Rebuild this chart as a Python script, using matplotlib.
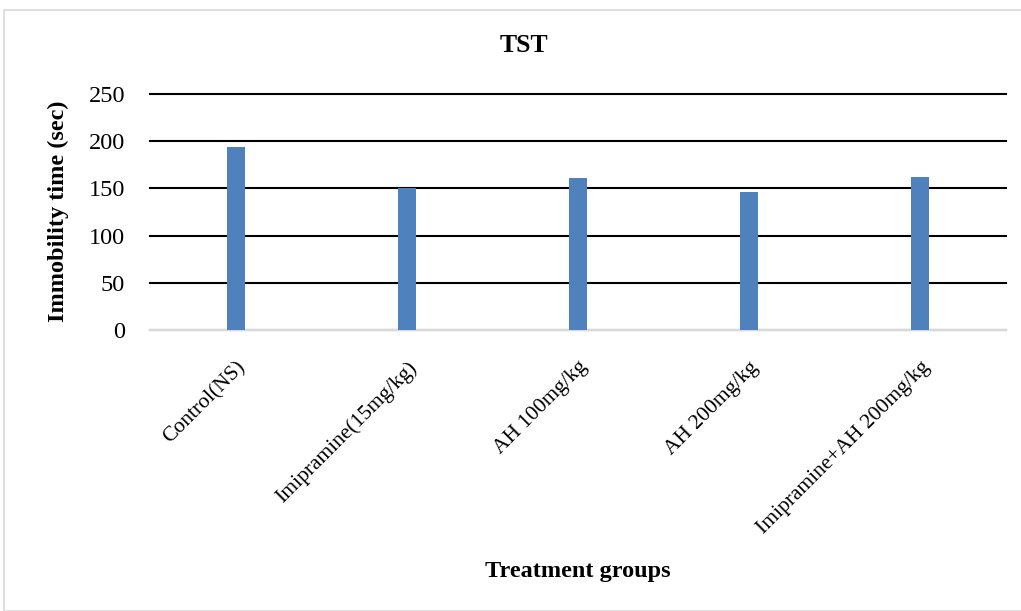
import matplotlib
matplotlib.use("Agg")
import matplotlib.pyplot as plt
import numpy as np
from matplotlib.patches import Rectangle

groups = ["Control(NS)", "Imipramine(15mg/kg)", "AH 100mg/kg",
          "AH 200mg/kg", "Imipramine+AH 200mg/kg"]
immobility = [193.5, 150, 161, 146.5, 162.5]
yticks = [0, 50, 100, 150, 200, 250]

plt.rcParams['font.family'] = ['Liberation Serif', 'DejaVu Serif']

fig = plt.figure(figsize=(10.21, 6.11), dpi=100)
ax = fig.add_axes([150/1021, 1 - 330/611, (1006-150)/1021, (330-94)/611])

# chart border
fig.patches.append(Rectangle((4/1021, 0), 1, 1 - 10/611, transform=fig.transFigure,
                             fill=False, edgecolor='#d9d9d9', linewidth=1.2))

x = np.arange(len(groups))
ax.bar(x, immobility, width=0.105, color='#4f81bd', zorder=3)

ax.set_xlim(-0.5, len(groups) - 0.5)
ax.set_ylim(0, 250)
ax.set_yticks(yticks)
ax.set_yticklabels([str(v) for v in yticks], fontsize=17.5)
ax.set_xticks(x)
ax.set_xticklabels(groups, rotation=45, ha='right', va='top',
                   rotation_mode='anchor', fontsize=15.5)
ax.tick_params(axis='both', length=0)
ax.tick_params(axis='y', pad=18)
ax.tick_params(axis='x', pad=20)

ax.grid(axis='y', color='black', linewidth=1.5, zorder=1)
for gl in ax.get_ygridlines():
    gl.set_clip_on(False)
for s in ['top', 'right', 'left']:
    ax.spines[s].set_visible(False)
ax.spines['bottom'].set_color('#d9d9d9')
ax.spines['bottom'].set_linewidth(1.5)
ax.spines['bottom'].set_zorder(2)

fig.text(524/1021, 1 - 46/611, "TST", ha='center', va='center',
         fontsize=18.5, fontweight='bold')
fig.text(578/1021, 1 - 572/611, "Treatment groups", ha='center', va='center',
         fontsize=17.5, fontweight='bold')
fig.text(58/1021, 1 - 211/611, "Immobility time (sec)", ha='center', va='center',
         rotation=90, fontsize=17.5, fontweight='bold')

fig.savefig("out.png", dpi=100)
